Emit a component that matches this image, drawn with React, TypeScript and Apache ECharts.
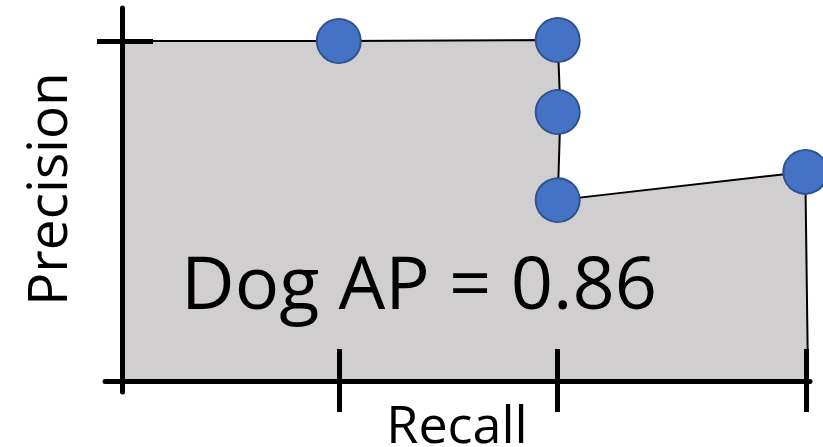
import React, { useEffect, useRef } from "react";
import * as echarts from "echarts";

// PR curve points (recall, precision)
const recallPoints = [0.317, 0.637, 0.637, 0.637, 0.999];
const precisionPoints = [1.0, 1.003, 0.791, 0.532, 0.615];
// Interpolated curve outline: starts at recall 0, ends dropping to 0 at recall 1
const curveRecall = [0, 0.317, 0.637, 0.641, 0.637, 0.999, 1.003];
const curvePrecision = [1.0, 1.0, 1.003, 0.791, 0.532, 0.615, 0];
const recallTicks = [0.317, 0.637, 1.0];
const precisionTicks = [1.0];
const apLabel = "Dog AP = 0.86";
const xName = "Recall";
const yName = "Precision";

const X_MIN = -17 / 684;
const X_MAX = 1 + 4 / 684;
const Y_MIN = -11 / 340;
const Y_MAX = 1 + 33 / 340;

export default function App() {
  const ref = useRef<HTMLDivElement>(null);
  useEffect(() => {
    if (!ref.current) return;
    const chart = echarts.init(ref.current, null, { renderer: "svg" });
    const font = "'Open Sans', 'Noto Sans', sans-serif";
    const baseX = {
      type: "value",
      min: X_MIN,
      max: X_MAX,
      position: "bottom",
      z: 5,
      splitLine: { show: false },
      axisLabel: { show: false },
    };
    const baseY = {
      type: "value",
      min: Y_MIN,
      max: Y_MAX,
      position: "left",
      z: 5,
      splitLine: { show: false },
      axisLabel: { show: false },
    };
    chart.setOption({
      animation: false,
      grid: { left: 105, right: 13, top: 8, bottom: 55 },
      xAxis: [
        {
          ...baseX,
          axisLine: { show: true, onZero: true, onZeroAxisIndex: 0, lineStyle: { color: "#000", width: 5 } },
          axisTick: { show: true, inside: false, length: 31, customValues: recallTicks, lineStyle: { color: "#000", width: 5 } },
        },
        {
          ...baseX,
          axisLine: { show: false, onZero: true, onZeroAxisIndex: 1 },
          axisTick: { show: true, inside: true, length: 32, customValues: recallTicks, lineStyle: { color: "#000", width: 5 } },
        },
      ],
      yAxis: [
        {
          ...baseY,
          axisLine: { show: true, onZero: true, onZeroAxisIndex: 0, lineStyle: { color: "#000", width: 5 } },
          axisTick: { show: true, inside: false, length: 25, customValues: precisionTicks, lineStyle: { color: "#000", width: 5 } },
        },
        {
          ...baseY,
          axisLine: { show: false, onZero: true, onZeroAxisIndex: 1 },
          axisTick: { show: true, inside: true, length: 31, customValues: precisionTicks, lineStyle: { color: "#000", width: 5 } },
        },
      ],
      series: [
        {
          type: "line",
          xAxisIndex: 0,
          yAxisIndex: 0,
          data: curveRecall.map((r, i) => [r, curvePrecision[i]]),
          showSymbol: false,
          symbol: "none",
          clip: false,
          z: 1,
          lineStyle: { color: "#000", width: 2 },
          areaStyle: { color: "#D0CECF", opacity: 1 },
        },
        {
          type: "scatter",
          xAxisIndex: 0,
          yAxisIndex: 0,
          data: recallPoints.map((r, i) => [r, precisionPoints[i]]),
          symbolSize: 44,
          clip: false,
          z: 8,
          itemStyle: { color: "#4472C4", borderColor: "#2F528F", borderWidth: 2, opacity: 1 },
        },
      ],
      graphic: [
        {
          type: "text",
          x: 419,
          y: 317,
          z: 10,
          style: {
            text: apLabel,
            font: `74px ${font}`,
            fill: "#000",
            textAlign: "center",
            textVerticalAlign: "bottom",
          },
        },
        {
          type: "text",
          x: 457,
          y: 448,
          style: {
            text: xName,
            font: `52px ${font}`,
            fill: "#000",
            textAlign: "center",
            textVerticalAlign: "bottom",
          },
        },
        {
          type: "text",
          x: 45,
          y: 189,
          rotation: Math.PI / 2,
          style: {
            text: yName,
            font: `55px ${font}`,
            fill: "#000",
            textAlign: "center",
            textVerticalAlign: "middle",
          },
        },
      ],
    });
    return () => chart.dispose();
  }, []);
  return (
    <div
      ref={ref}
      style={{ position: "absolute", left: 0, top: 0, width: 823, height: 447 }}
    />
  );
}
